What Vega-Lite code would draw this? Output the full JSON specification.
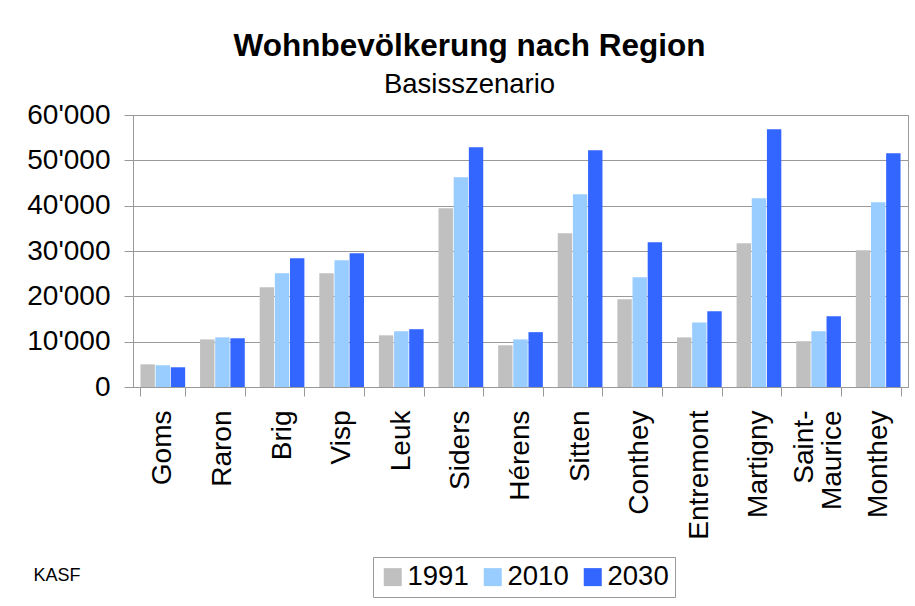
{
  "$schema": "https://vega.github.io/schema/vega-lite/v6.json",
  "width": 775,
  "height": 272,
  "autosize": {"type": "none"},
  "padding": {"left": 133, "top": 115, "right": 7, "bottom": 219},
  "background": "white",
  "config": {
    "font": "Liberation Sans",
    "view": {"stroke": "#999999", "strokeWidth": 1}
  },
  "title": {
    "text": "Wohnbevölkerung nach Region",
    "subtitle": "Basisszenario",
    "anchor": "middle",
    "dx": -51,
    "offset": 3,
    "font": "Liberation Sans",
    "fontSize": 31.5,
    "fontWeight": "bold",
    "color": "#000000",
    "subtitleFont": "Liberation Sans",
    "subtitleFontSize": 27.5,
    "subtitleColor": "#000000",
    "subtitlePadding": 8
  },
  "data": {
    "values": [
      {"region": "Goms", "year": "1991", "value": 5000},
      {"region": "Goms", "year": "2010", "value": 4800},
      {"region": "Goms", "year": "2030", "value": 4350},
      {"region": "Raron", "year": "1991", "value": 10500},
      {"region": "Raron", "year": "2010", "value": 10950},
      {"region": "Raron", "year": "2030", "value": 10750},
      {"region": "Brig", "year": "1991", "value": 22000},
      {"region": "Brig", "year": "2010", "value": 25100},
      {"region": "Brig", "year": "2030", "value": 28400},
      {"region": "Visp", "year": "1991", "value": 25100},
      {"region": "Visp", "year": "2010", "value": 27950},
      {"region": "Visp", "year": "2030", "value": 29500},
      {"region": "Leuk", "year": "1991", "value": 11400},
      {"region": "Leuk", "year": "2010", "value": 12300},
      {"region": "Leuk", "year": "2030", "value": 12750},
      {"region": "Siders", "year": "1991", "value": 39450},
      {"region": "Siders", "year": "2010", "value": 46250},
      {"region": "Siders", "year": "2030", "value": 52900},
      {"region": "Hérens", "year": "1991", "value": 9200},
      {"region": "Hérens", "year": "2010", "value": 10500},
      {"region": "Hérens", "year": "2030", "value": 12100},
      {"region": "Sitten", "year": "1991", "value": 33900},
      {"region": "Sitten", "year": "2010", "value": 42500},
      {"region": "Sitten", "year": "2030", "value": 52250},
      {"region": "Conthey", "year": "1991", "value": 19350},
      {"region": "Conthey", "year": "2010", "value": 24200},
      {"region": "Conthey", "year": "2030", "value": 31950},
      {"region": "Entremont", "year": "1991", "value": 10950},
      {"region": "Entremont", "year": "2010", "value": 14250},
      {"region": "Entremont", "year": "2030", "value": 16700},
      {"region": "Martigny", "year": "1991", "value": 31700},
      {"region": "Martigny", "year": "2010", "value": 41650},
      {"region": "Martigny", "year": "2030", "value": 56850},
      {"region": "Saint-Maurice", "year": "1991", "value": 10100},
      {"region": "Saint-Maurice", "year": "2010", "value": 12300},
      {"region": "Saint-Maurice", "year": "2030", "value": 15600},
      {"region": "Monthey", "year": "1991", "value": 30150},
      {"region": "Monthey", "year": "2010", "value": 40750},
      {"region": "Monthey", "year": "2030", "value": 51550}
    ]
  },
  "mark": {"type": "bar"},
  "encoding": {
    "x": {
      "field": "region",
      "type": "nominal",
      "sort": ["Goms", "Raron", "Brig", "Visp", "Leuk", "Siders", "Hérens", "Sitten", "Conthey", "Entremont", "Martigny", "Saint-Maurice", "Monthey"],
      "scale": {"paddingInner": 0.25, "paddingOuter": 0.125},
      "axis": {
        "labelAngle": -90,
        "labelFontSize": 28,
        "labelColor": "#000000",
        "labelPadding": 14,
        "labelLineHeight": 28,
        "labelExpr": "datum.label == 'Saint-Maurice' ? ['Saint-', 'Maurice'] : datum.label",
        "labelOffset": {"condition": {"test": "datum.value == 'Saint-Maurice'", "value": -14}, "value": 0},
        "tickBand": "extent",
        "tickSize": 9,
        "tickColor": "#999999",
        "domainColor": "#999999",
        "grid": false,
        "title": "KASF",
        "titleFontSize": 18,
        "titleFontWeight": "normal",
        "titleColor": "#000000",
        "titleAlign": "left",
        "titleBaseline": "middle",
        "titleAnchor": "start",
        "titleX": -100,
        "titleY": 188
      }
    },
    "xOffset": {
      "field": "year",
      "type": "nominal",
      "scale": {"paddingInner": 0.05}
    },
    "y": {
      "field": "value",
      "type": "quantitative",
      "scale": {"domain": [0, 60000], "nice": false},
      "axis": {
        "values": [0, 10000, 20000, 30000, 40000, 50000, 60000],
        "labelExpr": "replace(format(datum.value, ','), ',', \"'\")",
        "labelFontSize": 28,
        "labelColor": "#000000",
        "labelPadding": 14,
        "tickSize": 9,
        "tickColor": "#999999",
        "domainColor": "#999999",
        "gridColor": "#999999",
        "grid": true,
        "title": null
      }
    },
    "color": {
      "field": "year",
      "type": "nominal",
      "scale": {"domain": ["1991", "2010", "2030"], "range": ["#C0C0C0", "#99CCFF", "#3366FF"]},
      "legend": {
        "orient": "none",
        "legendX": 240,
        "legendY": 442,
        "direction": "horizontal",
        "title": null,
        "symbolType": "square",
        "symbolSize": 324,
        "symbolStrokeWidth": 0,
        "labelFontSize": 27.5,
        "labelColor": "#000000",
        "labelOffset": 1,
        "columnPadding": 10,
        "padding": 6,
        "strokeColor": "#999999"
      }
    }
  }
}
